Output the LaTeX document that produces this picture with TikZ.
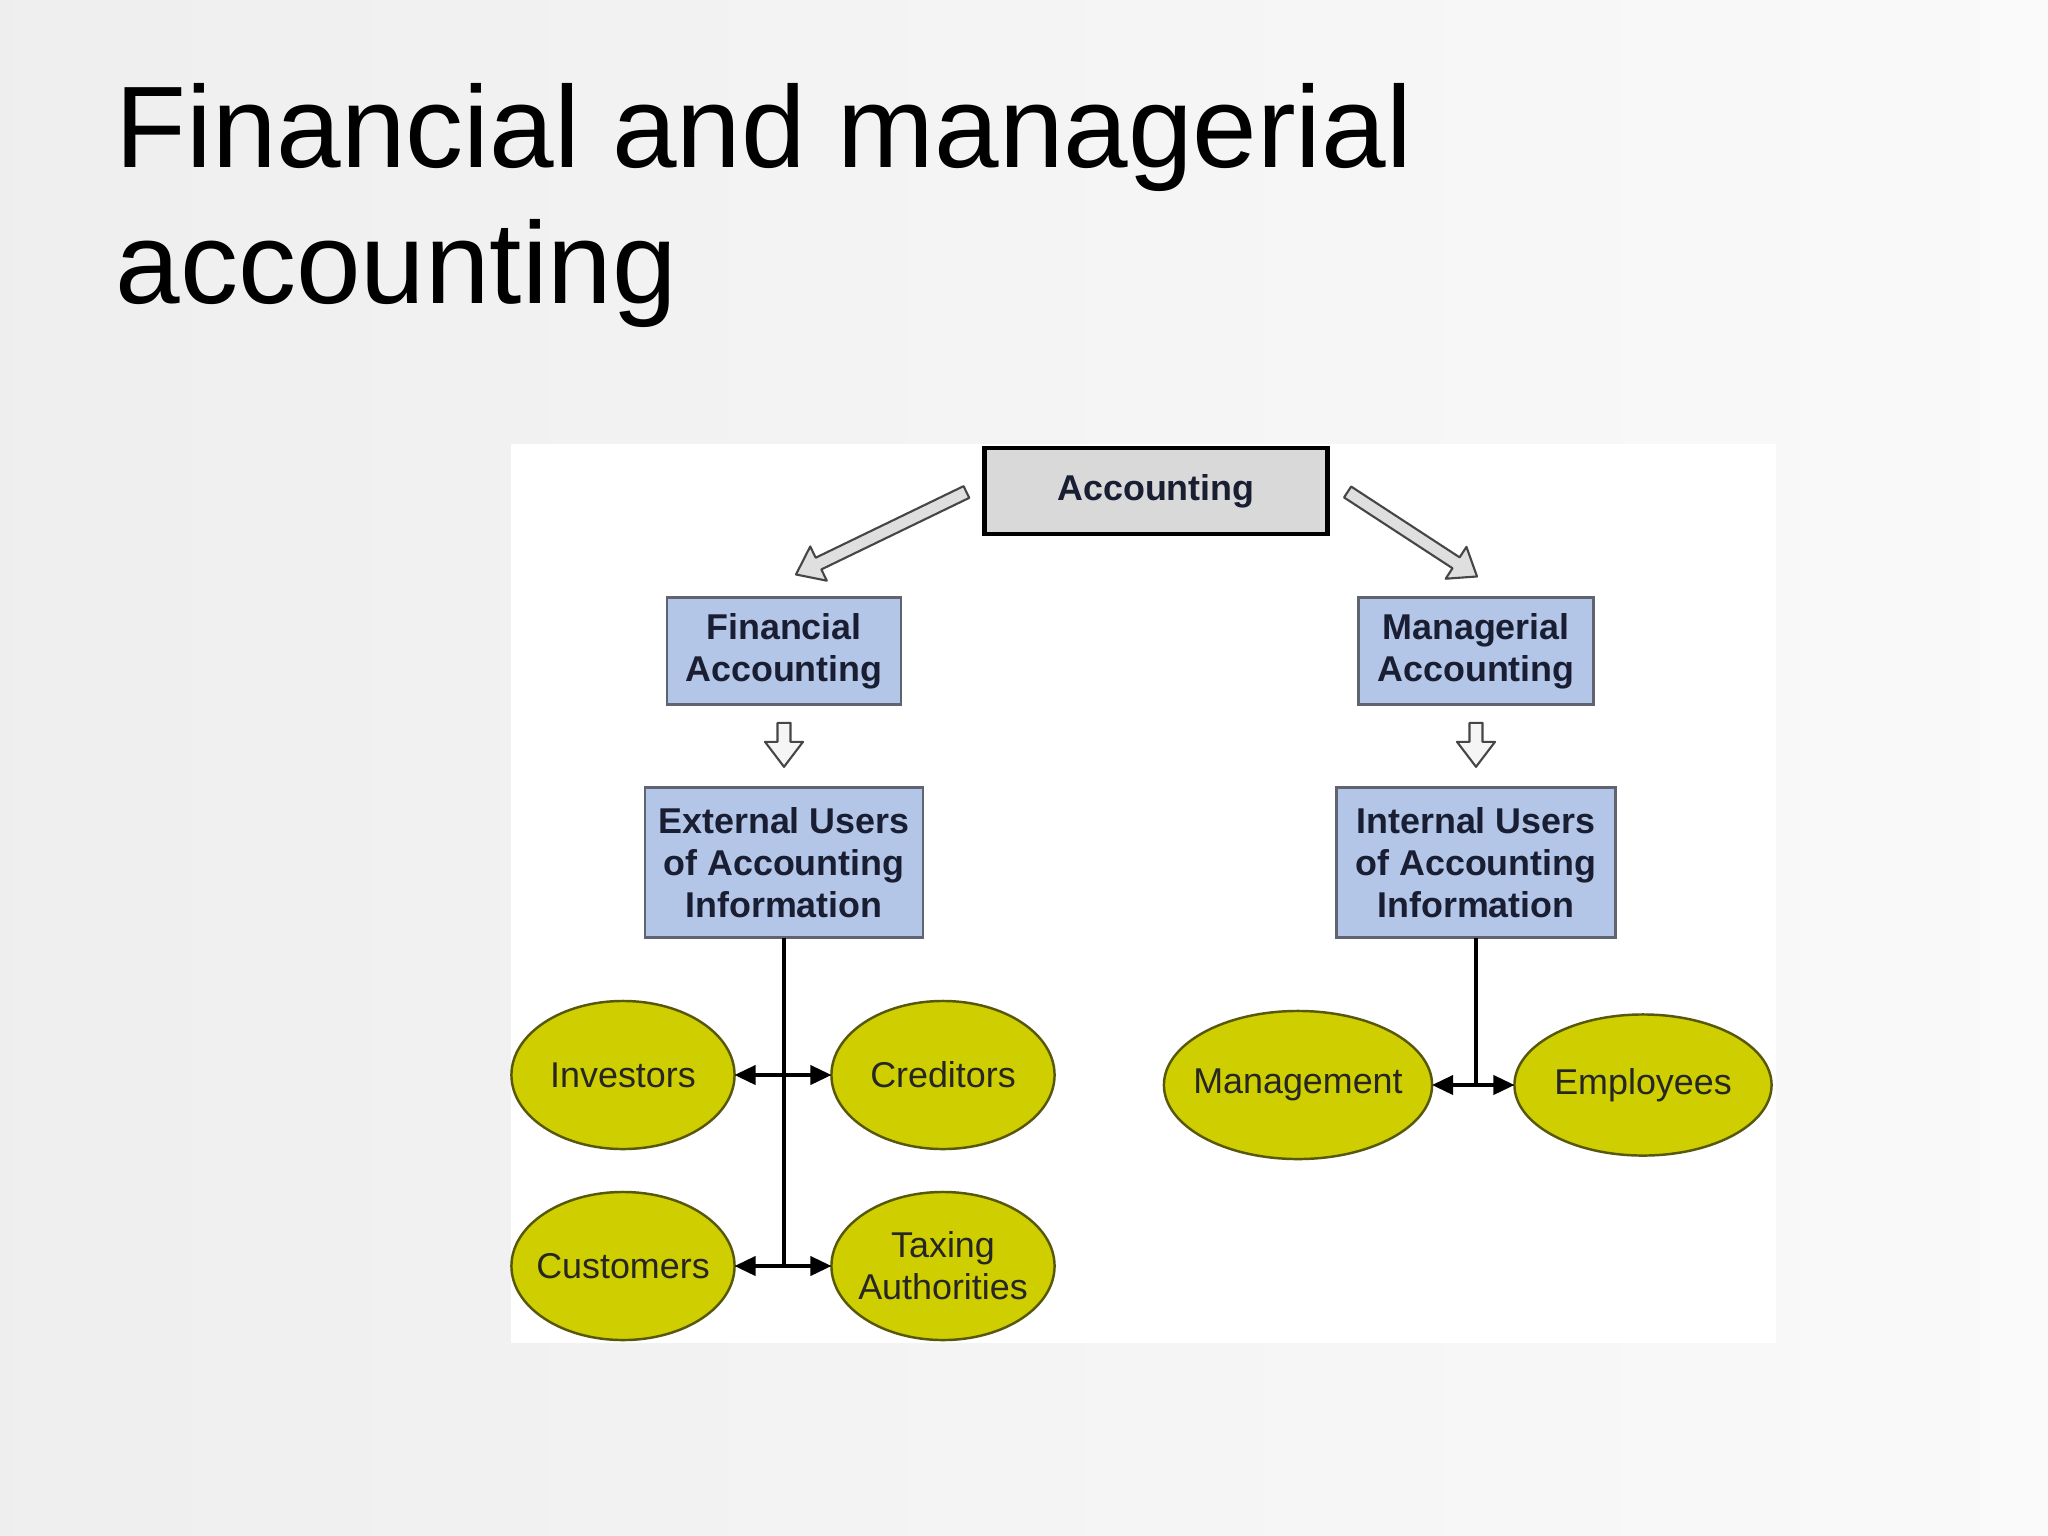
\documentclass[tikz,border=0pt]{standalone}
\usepackage{fontspec}
\setmainfont{Liberation Sans}
\usepackage{xcolor}
\usetikzlibrary{arrows.meta,positioning,shapes,calc}

\definecolor{boxblue}{RGB}{180,198,231}
\definecolor{boxline}{RGB}{95,100,112}
\definecolor{usrfill}{RGB}{206,206,0}
\definecolor{usrline}{RGB}{88,88,10}
\definecolor{txtnavy}{RGB}{25,30,50}

\tikzset{
	topbox/.style = {rectangle, draw = black, line width = 1.4pt, fill = gray!30, inner sep = 0pt, outer sep = 0pt,
		minimum width = 3.43cm, minimum height = 0.86cm, font = \fontsize{10.2}{12}\selectfont\bfseries, text = txtnavy},
	bluebox/.style = {rectangle, draw = boxline, line width = 0.7pt, fill = boxblue, align = center, inner sep = 0pt, outer sep = 0pt,
		font = \fontsize{10.2}{12}\selectfont\bfseries, text = txtnavy},
	user/.style = {ellipse, draw = usrline, line width = 0.7pt, fill = usrfill, align = center, inner xsep = -0.4cm, inner ysep = -0.2cm, outer sep = 0pt,
		font = \fontsize{10.2}{12}\selectfont, text = black!85},
	fatarrow/.style = {draw = gray!55!black, line width = 0.6pt, fill = gray!25, line join = round},
	trunk/.style = {draw = black, line width = 0.9pt},
	link/.style = {draw = black, line width = 0.9pt, {Triangle[length=6pt,width=5.5pt]}-{Triangle[length=6pt,width=5.5pt]}}
}

% hollow block arrow from #2 to #3
\newcommand{\blockarrow}[3][fatarrow]{%
	\path ($(#3)!0.25cm!(#2)$) coordinate (ba-h);
	\draw[#1] ($(#2)!0.065cm!90:(#3)$) -- ($(ba-h)!0.065cm!90:(#3)$) -- ($(ba-h)!0.19cm!90:(#3)$)
		-- (#3) -- ($(ba-h)!0.19cm!-90:(#3)$) -- ($(ba-h)!0.065cm!-90:(#3)$) -- ($(#2)!0.065cm!-90:(#3)$) -- cycle;
}

\begin{document}
\begin{tikzpicture}[x = 0.01cm, y = -0.01cm]
\useasboundingbox (0,0) rectangle (2048,1536);
\shade[left color = gray!13, right color = gray!4] (0,0) rectangle (2048,1536);
\fill[white] (511,444) rectangle (1776,1343);

% title
\node[anchor = base west, inner sep = 0pt, font = \fontsize{33}{39}\selectfont] (title1) at (115,167) {Financial and managerial};
\node[anchor = base west, inner sep = 0pt, font = \fontsize{33}{39}\selectfont] (title2) at (115,303) {accounting};

% boxes
\node[topbox] (acc) at (1156,491) {Accounting};
\node[bluebox, minimum width = 2.34cm, minimum height = 1.07cm] (fin) at (784,651) {Financial\\Accounting};
\node[bluebox, minimum width = 2.35cm, minimum height = 1.07cm] (man) at (1476,651) {Managerial\\Accounting};
\node[bluebox, minimum width = 2.78cm, minimum height = 1.50cm][below = 0.83cm of fin] (ext) {External Users\\of Accounting\\Information};
\node[bluebox, minimum width = 2.79cm, minimum height = 1.50cm][below = 0.83cm of man] (int) {Internal Users\\of Accounting\\Information};

% users
\node[user, minimum width = 2.23cm, minimum height = 1.48cm] (inv) at (623,1075) {Investors};
\node[user, minimum width = 2.23cm, minimum height = 1.48cm] (cred) at (943,1075) {Creditors};
\node[user, minimum width = 2.23cm, minimum height = 1.48cm] (cust) at (623,1266) {Customers};
\node[user, minimum width = 2.23cm, minimum height = 1.48cm] (tax) at (943,1266) {Taxing\\Authorities};
\node[user, minimum width = 2.68cm, minimum height = 1.48cm] (mgmt) at (1298,1085) {Management};
\node[user, minimum width = 2.57cm, minimum height = 1.41cm] (emp) at (1643,1085) {Employees};

% block arrows
\coordinate (la-s) at ($(acc.west)+(-18,1)$);
\coordinate (la-e) at ($(fin.north)+(12,-23)$);
\coordinate (ra-s) at ($(acc.east)+(20,1)$);
\coordinate (ra-e) at ($(man.north)+(1,-21)$);
\blockarrow{la-s}{la-e}
\blockarrow{ra-s}{ra-e}
\coordinate (ld-s) at ($(fin.south)!0.22!(ext.north)$);
\coordinate (ld-e) at ($(fin.south)!0.75!(ext.north)$);
\coordinate (rd-s) at ($(man.south)!0.22!(int.north)$);
\coordinate (rd-e) at ($(man.south)!0.75!(int.north)$);
\blockarrow[fatarrow, fill = gray!8]{ld-s}{ld-e}
\blockarrow[fatarrow, fill = gray!8]{rd-s}{rd-e}

% connectors
\draw[trunk] (ext.south) -- (ext.south |- cust.east);
\draw[trunk] (int.south) -- (int.south |- mgmt.east);
\draw[link] (inv.east) -- (cred.west);
\draw[link] (cust.east) -- (tax.west);
\draw[link] (mgmt.east) -- (emp.west);

\end{tikzpicture}
\end{document}
